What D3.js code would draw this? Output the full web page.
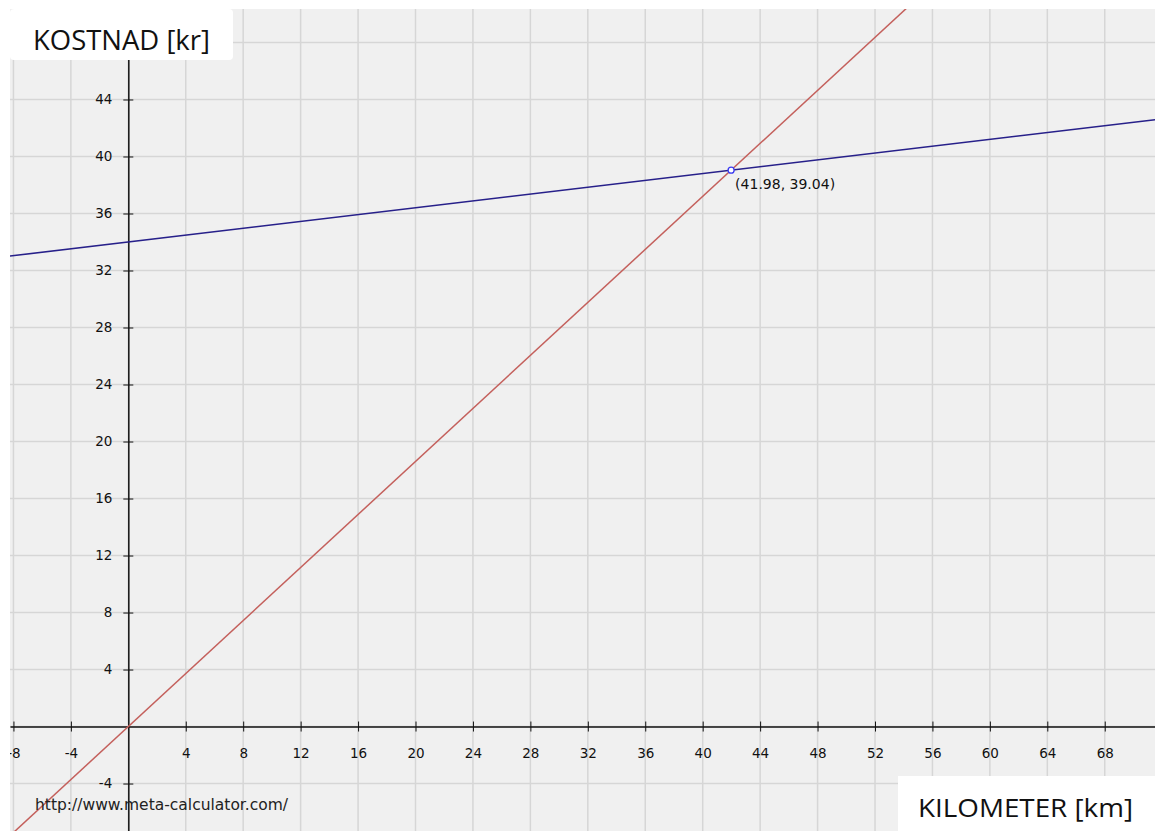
<!DOCTYPE html>
<html lang="sv">
    <head>
        <meta charset="utf-8">
        <title>Kostnad per kilometer</title>
        <script src="https://d3js.org/d3.v7.min.js"></script>
        <style type="text/css">
            body {
                margin: 0;
                background: white;
            }
            .tick text {
                font-family: "DejaVu Sans", sans-serif;
                font-size: 13.5px;
                fill: #111;
            }
            .boxlabel {
                font-family: "Open Sans", sans-serif;
                fill: #111;
            }
        </style>
    </head>
    <body>
        <svg width="1155" height="831"></svg>
        <script type="text/javascript">

            // values
            const xTickValues = [-8, -4, 4, 8, 12, 16, 20, 24, 28, 32, 36, 40, 44, 48, 52, 56, 60, 64, 68];
            const yTickValues = [-4, 4, 8, 12, 16, 20, 24, 28, 32, 36, 40, 44];
            const xGrid = [-8, -4, 0, 4, 8, 12, 16, 20, 24, 28, 32, 36, 40, 44, 48, 52, 56, 60, 64, 68];
            const yGrid = [-4, 0, 4, 8, 12, 16, 20, 24, 28, 32, 36, 40, 44, 48];
            const xView = [-8.24, 71.5];
            const yView = [-7.33, 50.35];

            // y = slope * x + intercept
            const lineNames = ["taxi", "bil"];
            const lineSlopes = [0.93, 0.12];
            const lineIntercepts = [0, 34];
            const lineColors = ["#c4605c", "#27208a"];

            const intersection = [41.98, 39.04];
            const intersectionLabel = "(41.98, 39.04)";
            const yTitle = "KOSTNAD [kr]";
            const xTitle = "KILOMETER [km]";
            const credit = "http://www.meta-calculator.com/";

            const svg = d3.select("svg");
            const pLeft = 10, pTop = 9, pRight = 1155, pBottom = 831;

            const x = d3.scaleLinear().domain(xView).range([pLeft, pRight]);
            const y = d3.scaleLinear().domain(yView).range([pBottom, pTop]);

            svg.append("clipPath")
               .attr("id", "plotclip")
               .append("rect")
               .attr("x", pLeft).attr("y", pTop)
               .attr("width", pRight - pLeft).attr("height", pBottom - pTop);

            const plot = svg.append("g").attr("clip-path", "url(#plotclip)");

            plot.append("rect")
                .attr("x", pLeft).attr("y", pTop)
                .attr("width", pRight - pLeft).attr("height", pBottom - pTop)
                .style("fill", "#f0f0f0");

            // grid
            plot.selectAll("line.vgrid")
                .data(xGrid)
                .enter()
                .append("line")
                .attr("class", "vgrid")
                .attr("x1", d => x(d)).attr("x2", d => x(d))
                .attr("y1", pTop).attr("y2", pBottom)
                .style("stroke", "#d6d6d6")
                .style("stroke-width", 1.5);

            plot.selectAll("line.hgrid")
                .data(yGrid)
                .enter()
                .append("line")
                .attr("class", "hgrid")
                .attr("x1", pLeft).attr("x2", pRight)
                .attr("y1", d => y(d)).attr("y2", d => y(d))
                .style("stroke", "#d6d6d6")
                .style("stroke-width", 1.5);

            // axes through the origin, plain hyphen for negatives
            const plain = d => String(d);

            const xAxis = plot.append("g")
                .attr("transform", `translate(0,${y(0)})`)
                .call(d3.axisBottom(x).tickValues(xTickValues).tickSizeOuter(0).tickFormat(plain));
            xAxis.selectAll(".tick line").attr("y1", -5).attr("y2", 5).style("stroke", "#111");
            xAxis.selectAll(".tick text").attr("y", 22).attr("dy", "0.71em");

            const yAxis = plot.append("g")
                .attr("transform", `translate(${x(0)},0)`)
                .call(d3.axisLeft(y).tickValues(yTickValues).tickSizeOuter(0).tickFormat(plain));
            yAxis.selectAll(".tick line").attr("x1", -5).attr("x2", 5).style("stroke", "#111");
            yAxis.selectAll(".tick text").attr("x", -16);

            plot.selectAll(".domain").style("stroke", "#111").style("stroke-width", 1.5);

            // the two lines
            plot.selectAll("line.fn")
                .data(lineNames)
                .enter()
                .append("line")
                .attr("class", "fn")
                .attr("x1", x(xView[0]))
                .attr("y1", (d, i) => y(lineSlopes[i] * xView[0] + lineIntercepts[i]))
                .attr("x2", x(xView[1]))
                .attr("y2", (d, i) => y(lineSlopes[i] * xView[1] + lineIntercepts[i]))
                .style("stroke", (d, i) => lineColors[i])
                .style("stroke-width", 1.5);

            plot.append("circle")
                .attr("cx", x(intersection[0]))
                .attr("cy", y(intersection[1]))
                .attr("r", 3)
                .style("fill", "white")
                .style("stroke", "#3a3af0")
                .style("stroke-width", 1.3);

            plot.append("text")
                .attr("x", x(intersection[0]) + 4)
                .attr("y", y(intersection[1]) + 19)
                .style("font-family", "DejaVu Sans, sans-serif")
                .style("font-size", "14px")
                .style("fill", "#111")
                .text(intersectionLabel);

            plot.append("text")
                .attr("x", 35)
                .attr("y", 810)
                .style("font-family", "DejaVu Sans, sans-serif")
                .style("font-size", "15.5px")
                .style("fill", "#222")
                .text(credit);

            // title boxes
            svg.append("rect")
               .attr("x", 10).attr("y", 9)
               .attr("width", 223).attr("height", 51)
               .attr("rx", 4)
               .style("fill", "white");
            svg.append("text")
               .attr("class", "boxlabel")
               .attr("x", 33).attr("y", 50)
               .attr("textLength", 177)
               .attr("lengthAdjust", "spacingAndGlyphs")
               .style("font-size", "28px")
               .text(yTitle);

            svg.append("rect")
               .attr("x", 898).attr("y", 776)
               .attr("width", 257).attr("height", 55)
               .style("fill", "white");
            svg.append("text")
               .attr("class", "boxlabel")
               .attr("x", 918).attr("y", 817)
               .attr("textLength", 215)
               .attr("lengthAdjust", "spacingAndGlyphs")
               .style("font-size", "26px")
               .text(xTitle);

        </script>
    </body>
</html>
